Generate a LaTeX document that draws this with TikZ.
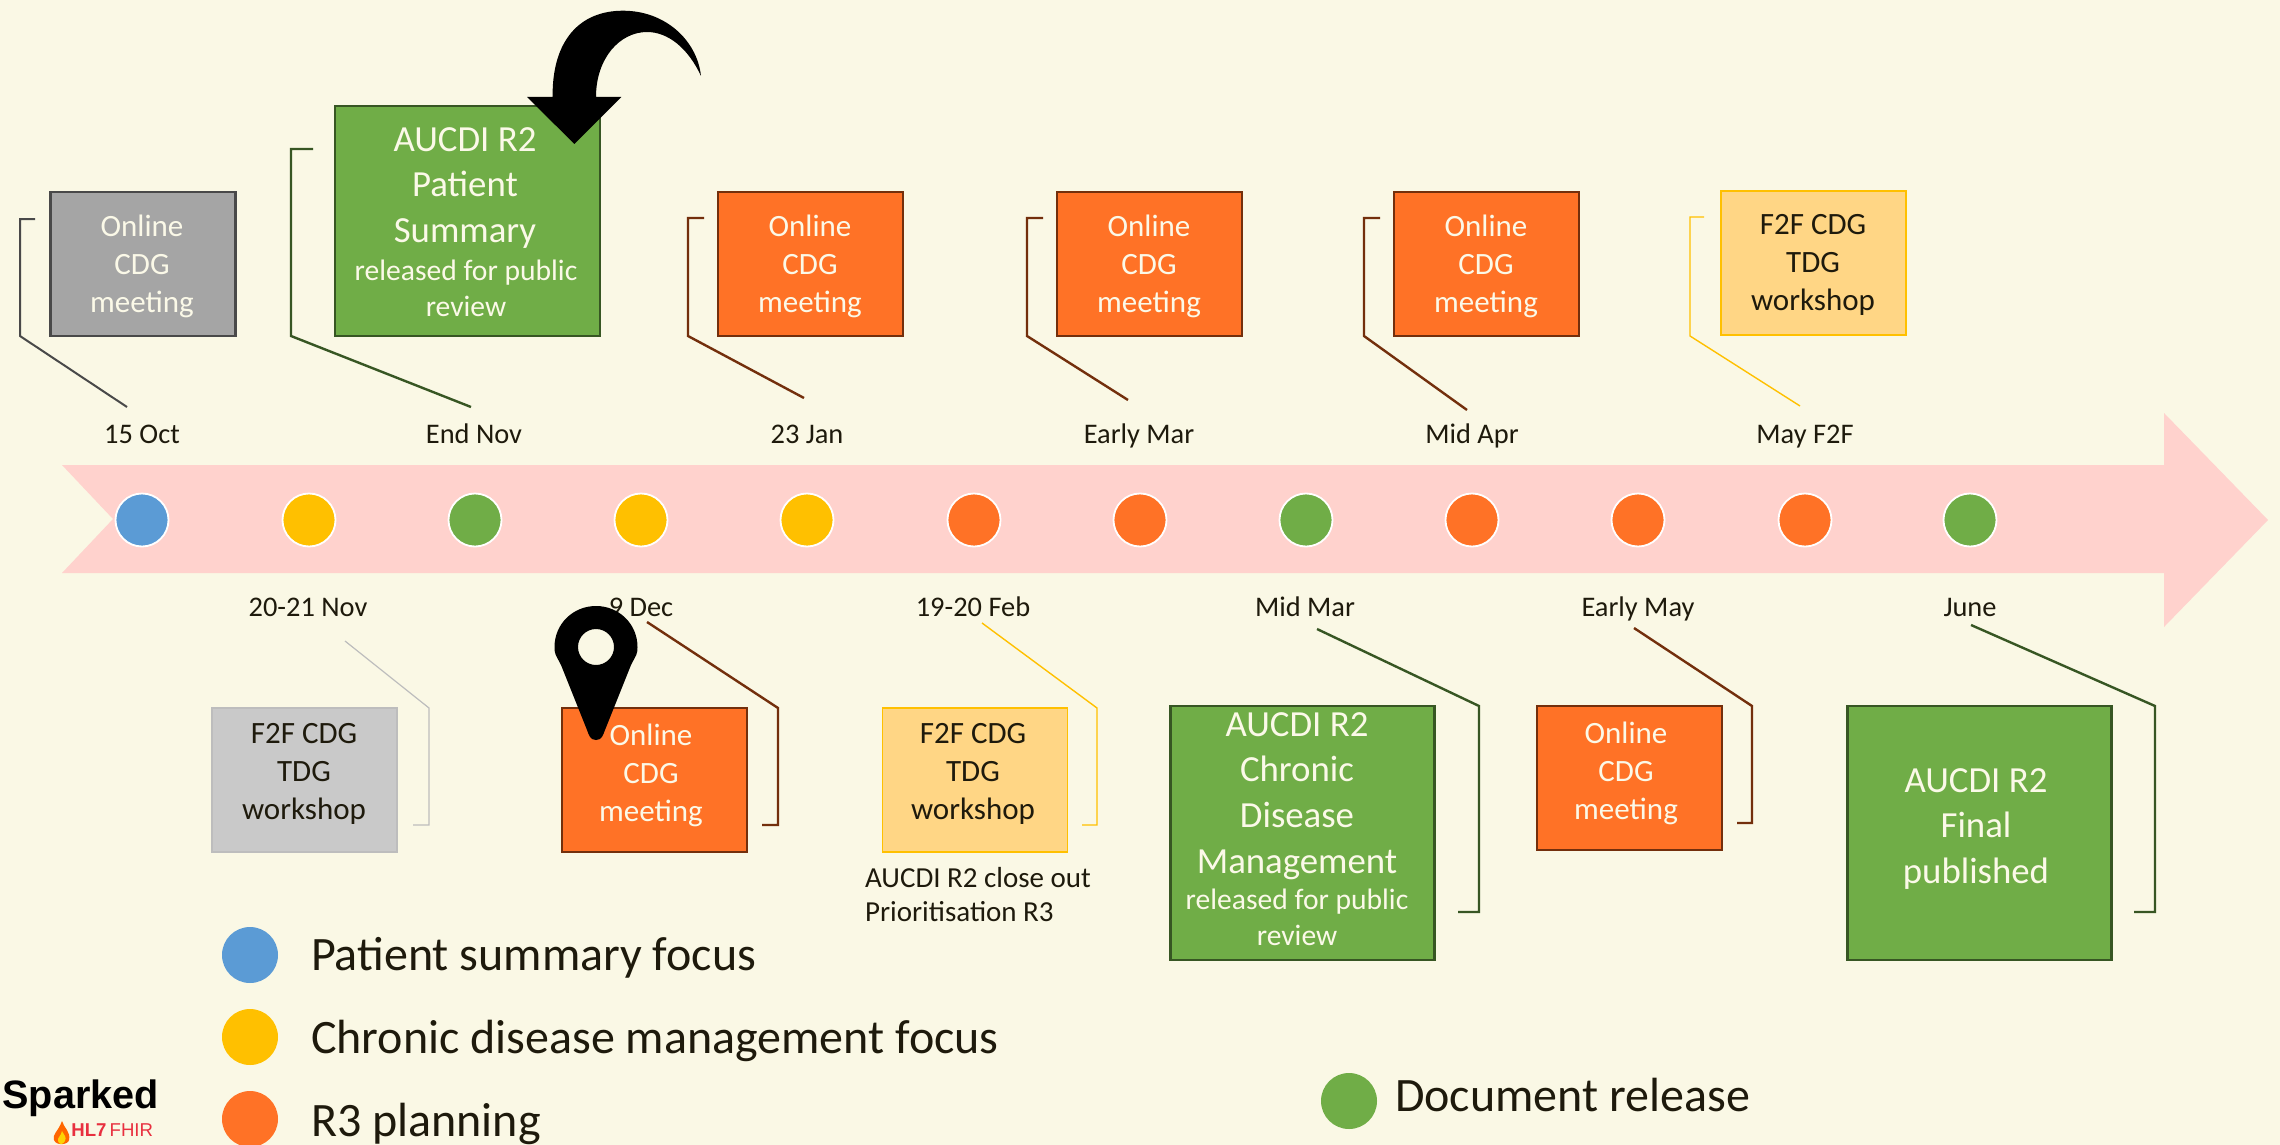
\documentclass[tikz,border=0pt]{standalone}
\usepackage{fontspec}
\setmainfont{Carlito}
\newfontfamily\arialf{Liberation Sans}
\definecolor{bgc}{HTML}{FAF8E5}
\definecolor{bandc}{HTML}{FFD2CD}
\definecolor{orangec}{HTML}{FF7226}
\definecolor{greenc}{HTML}{70AD47}
\definecolor{yellowc}{HTML}{FFC000}
\definecolor{bluec}{HTML}{5B9BD5}
\definecolor{greyc}{HTML}{A5A5A5}
\definecolor{dgreen}{HTML}{375623}
\definecolor{dbrown}{HTML}{732F0C}
\definecolor{dgrey}{HTML}{494949}
\definecolor{lgrey}{HTML}{BDBDBD}
\definecolor{wkyellow}{HTML}{FFD685}
\definecolor{wkgrey}{HTML}{C9C9C9}
\definecolor{ink}{HTML}{1E1A0C}
\definecolor{creamt}{HTML}{FBF9E8}
\definecolor{redc}{HTML}{E8303F}
\tikzset{
  x=0.5pt,y=-0.5pt,
  basebox/.style={rectangle,inner sep=0pt,outer sep=0pt,line width=1.3pt},
  orangebox/.style={basebox,fill=orangec,draw=dbrown},
  greenbox/.style={basebox,fill=greenc,draw=dgreen},
  greybox/.style={basebox,fill=greyc,draw=dgrey},
  yellowbox/.style={basebox,fill=wkyellow,draw=yellowc,line width=0.9pt},
  lgreybox/.style={basebox,fill=wkgrey,draw=lgrey,line width=0.9pt},
  stdbox/.style={minimum width=92.5pt,minimum height=72pt},
  tlight/.style={text=creamt,align=center,font=\fontsize{15.5}{19}\selectfont},
  tsmall/.style={text=creamt,align=center,font=\fontsize{14.8}{18}\selectfont},
  tdark/.style={text=ink,align=center,font=\fontsize{15.5}{19}\selectfont},
  tbig/.style={text=creamt,align=center,font=\fontsize{18.4}{22.8}\selectfont},
  datelab/.style={text=ink,anchor=base,font=\fontsize{14.2}{17}\selectfont},
  note/.style={text=ink,align=left,font=\fontsize{14.5}{17}\selectfont,anchor=west},
  legendtext/.style={text=ink,anchor=west,font=\fontsize{24}{28}\selectfont},
  dot/.style={circle,inner sep=0pt,outer sep=0pt,minimum size=26.5pt,draw=white,line width=0.9pt},
  keydot/.style={circle,inner sep=0pt,outer sep=0pt,minimum size=28pt},
  ldgreen/.style={draw=dgreen,line width=1.2pt},
  ldbrown/.style={draw=dbrown,line width=1.2pt},
  ldgrey/.style={draw=dgrey,line width=1pt},
  ldyellow/.style={draw=yellowc,line width=0.7pt},
  ldlgrey/.style={draw=lgrey,line width=0.6pt},
}
\begin{document}
\begin{tikzpicture}
\useasboundingbox[fill=bgc] (0,0) rectangle (2280,1145);
% band
\fill[bandc] (62,465) -- (2164,465) -- (2164,413) -- (2268,520) -- (2164,627) -- (2164,573) -- (62,573) -- (113,519) -- cycle;
% dots
\node[dot,fill=bluec] (d1) at (142,520) {};
\node[dot,fill=yellowc] (d2) at (309,520) {};
\node[dot,fill=greenc] (d3) at (475,520) {};
\node[dot,fill=yellowc] (d4) at (641,520) {};
\node[dot,fill=yellowc] (d5) at (807,520) {};
\node[dot,fill=orangec] (d6) at (974,520) {};
\node[dot,fill=orangec] (d7) at (1140,520) {};
\node[dot,fill=greenc] (d8) at (1306,520) {};
\node[dot,fill=orangec] (d9) at (1472,520) {};
\node[dot,fill=orangec] (d10) at (1638,520) {};
\node[dot,fill=orangec] (d11) at (1805,520) {};
\node[dot,fill=greenc] (d12) at (1970,520) {};
% date labels
\node[datelab] (t1) at (142,443) {15 Oct};
\node[datelab] (t2) at (474,443) {End Nov};
\node[datelab] (t3) at (807,443) {23 Jan};
\node[datelab] (t4) at (1139,443) {Early Mar};
\node[datelab] (t5) at (1472,443) {Mid Apr};
\node[datelab] (t6) at (1805,443) {May F2F};
\node[datelab] (b1) at (308,616) {20-21 Nov};
\node[datelab] (b2) at (641,616) {9 Dec};
\node[datelab] (b3) at (973,616) {19-20 Feb};
\node[datelab] (b4) at (1305,616) {Mid Mar};
\node[datelab] (b5) at (1638,616) {Early May};
\node[datelab] (b6) at (1970,616) {June};
% top boxes
\node[greybox,stdbox] (bx1) at (143,264) {};
\node[greenbox,minimum width=132.5pt,minimum height=115pt] (bx2) at (467.5,221) {};
\node[orangebox,stdbox] (bx3) at (810.5,264) {};
\node[orangebox,stdbox] (bx4) at (1149.5,264) {};
\node[orangebox,stdbox] (bx5) at (1486.5,264) {};
\node[yellowbox,stdbox] (bx6) at (1813.5,263) {};
% bottom boxes
\node[lgreybox,stdbox] (by1) at (304.5,780) {};
\node[orangebox,stdbox] (by2) at (654.5,780) {};
\node[yellowbox,stdbox] (by3) at (975,780) {};
\node[greenbox,minimum width=132pt,minimum height=127pt] (by4) at (1302.5,833) {};
\node[orangebox,stdbox] (by5) at (1629.5,778) {};
\node[greenbox,minimum width=132pt,minimum height=127pt] (by6) at (1979.5,833) {};
% box texts
\node[tlight] (x1) at (142,266) {Online\\CDG\\meeting};
\node[tbig] (x2a) at (465,188) {AUCDI R2\\Patient\\Summary};
\node[tsmall] (x2b) at (466,288) {released for public\\review};
\node[tlight] (x3) at (810,266) {Online\\CDG\\meeting};
\node[tlight] (x4) at (1149,266) {Online\\CDG\\meeting};
\node[tlight] (x5) at (1486,266) {Online\\CDG\\meeting};
\node[tdark] (x6) at (1813,265) {F2F CDG\\TDG\\workshop};
\node[tdark] (y1) at (304,774) {F2F CDG\\TDG\\workshop};
\node[tlight] (y2) at (651,775) {Online\\CDG\\meeting};
\node[tdark] (y3) at (973,774) {F2F CDG\\TDG\\workshop};
\node[tbig] (y4a) at (1297,796) {AUCDI R2\\Chronic\\Disease\\Management};
\node[tsmall] (y4b) at (1297,917) {released for public\\review};
\node[tlight] (y5) at (1626,773) {Online\\CDG\\meeting};
\node[tbig] (y6) at (1976,829) {AUCDI R2\\Final\\published};
\node[note] (n1) at (858,895) {AUCDI R2 close out\\Prioritisation R3};
% leader ends
\coordinate (a1) at (35,219); \coordinate (a1b) at (20,219); \coordinate (a1c) at (20,336); \coordinate (a1d) at (127,407);
\coordinate (a2) at (313,149); \coordinate (a2b) at (291,149); \coordinate (a2c) at (291,336); \coordinate (a2d) at (471,407);
\coordinate (a3) at (704,218); \coordinate (a3b) at (688,218); \coordinate (a3c) at (688,336); \coordinate (a3d) at (804,398);
\coordinate (a4) at (1043,218); \coordinate (a4b) at (1027,218); \coordinate (a4c) at (1027,336); \coordinate (a4d) at (1128,400);
\coordinate (a5) at (1380,218); \coordinate (a5b) at (1364,218); \coordinate (a5c) at (1364,336); \coordinate (a5d) at (1467,410);
\coordinate (a6) at (1704,217); \coordinate (a6b) at (1690,217); \coordinate (a6c) at (1690,336); \coordinate (a6d) at (1800,406);
\coordinate (c1) at (345,641); \coordinate (c1b) at (429,708); \coordinate (c1c) at (429,825); \coordinate (c1d) at (413,825);
\coordinate (c2) at (647,622); \coordinate (c2b) at (778,708); \coordinate (c2c) at (778,825); \coordinate (c2d) at (762,825);
\coordinate (c3) at (982,623); \coordinate (c3b) at (1097,708); \coordinate (c3c) at (1097,825); \coordinate (c3d) at (1082,825);
\coordinate (c4) at (1317,629); \coordinate (c4b) at (1479,706); \coordinate (c4c) at (1479,912); \coordinate (c4d) at (1458,912);
\coordinate (c5) at (1634,628); \coordinate (c5b) at (1752,706); \coordinate (c5c) at (1752,823); \coordinate (c5d) at (1737,823);
\coordinate (c6) at (1971,625); \coordinate (c6b) at (2155,706); \coordinate (c6c) at (2155,912); \coordinate (c6d) at (2134,912);
\draw[ldgrey] (a1) -- (a1b) -- (a1c) -- (a1d);
\draw[ldgreen] (a2) -- (a2b) -- (a2c) -- (a2d);
\draw[ldbrown] (a3) -- (a3b) -- (a3c) -- (a3d);
\draw[ldbrown] (a4) -- (a4b) -- (a4c) -- (a4d);
\draw[ldbrown] (a5) -- (a5b) -- (a5c) -- (a5d);
\draw[ldyellow] (a6) -- (a6b) -- (a6c) -- (a6d);
\draw[ldlgrey] (c1) -- (c1b) -- (c1c) -- (c1d);
\draw[ldbrown] (c2) -- (c2b) -- (c2c) -- (c2d);
\draw[ldyellow] (c3) -- (c3b) -- (c3c) -- (c3d);
\draw[ldgreen] (c4) -- (c4b) -- (c4c) -- (c4d);
\draw[ldbrown] (c5) -- (c5b) -- (c5c) -- (c5d);
\draw[ldgreen] (c6) -- (c6b) -- (c6c) -- (c6d);
% curved arrow
\fill[black] (527,97) -- (552.6,97) .. controls (552,40) and (580,10.7) .. (623,10.7)
  .. controls (665,10.7) and (697,40) .. (701,76)
  .. controls (688,48) and (668,32) .. (647,32)
  .. controls (620,32) and (596,58) .. (596,97)
  -- (621.4,97) -- (574.4,144) -- cycle;
% pin
\fill[black,even odd rule] (596,740)
  .. controls (590,740) and (589,735) .. (587,730)
  -- (561,665)
  .. controls (556,655) and (554.5,655) .. (554.5,647)
  .. controls (554.5,624) and (573,606) .. (596,606)
  .. controls (619,606) and (637.5,624) .. (637.5,647)
  .. controls (637.5,655) and (636,655) .. (631,665)
  -- (605,730)
  .. controls (603,735) and (602,740) .. (596,740) -- cycle
  (596,647) circle[radius=18];
% legend
\node[keydot,fill=bluec] (k1) at (250,955) {};
\node[keydot,fill=yellowc] (k2) at (250,1037) {};
\node[keydot,fill=orangec] (k3) at (250,1119) {};
\node[keydot,fill=greenc] (k4) at (1349,1101) {};
\node[legendtext] (l1) at (304,958) {Patient summary focus};
\node[legendtext] (l2) at (304,1041) {Chronic disease management focus};
\node[legendtext] (l3) at (304,1124) {R3 planning};
\node[legendtext] (l4) at (1388,1095) {Document release};
% logo
\node[anchor=west,inner sep=0pt,text=black,font=\arialf\bfseries\fontsize{19.8}{22}\selectfont] (sp) at (2,1098) {Sparked};
\node[anchor=west,inner sep=0pt,text=redc,font=\arialf\fontsize{9.3}{11}\selectfont] (hl) at (71,1130) {\textbf{HL7}\,FHIR};
\fill[orange!80!red] (62,1121) .. controls (64,1128) and (71,1132) .. (69,1140) .. controls (68,1145) and (56,1146) .. (54,1140) .. controls (52,1134) and (58,1132) .. (62,1121) -- cycle;
\fill[yellow!70!orange] (62,1131) .. controls (64,1135) and (67,1137) .. (65,1141) .. controls (63,1145) and (59,1145) .. (58,1141) .. controls (57,1138) and (61,1136) .. (62,1131) -- cycle;
\end{tikzpicture}
\end{document}
